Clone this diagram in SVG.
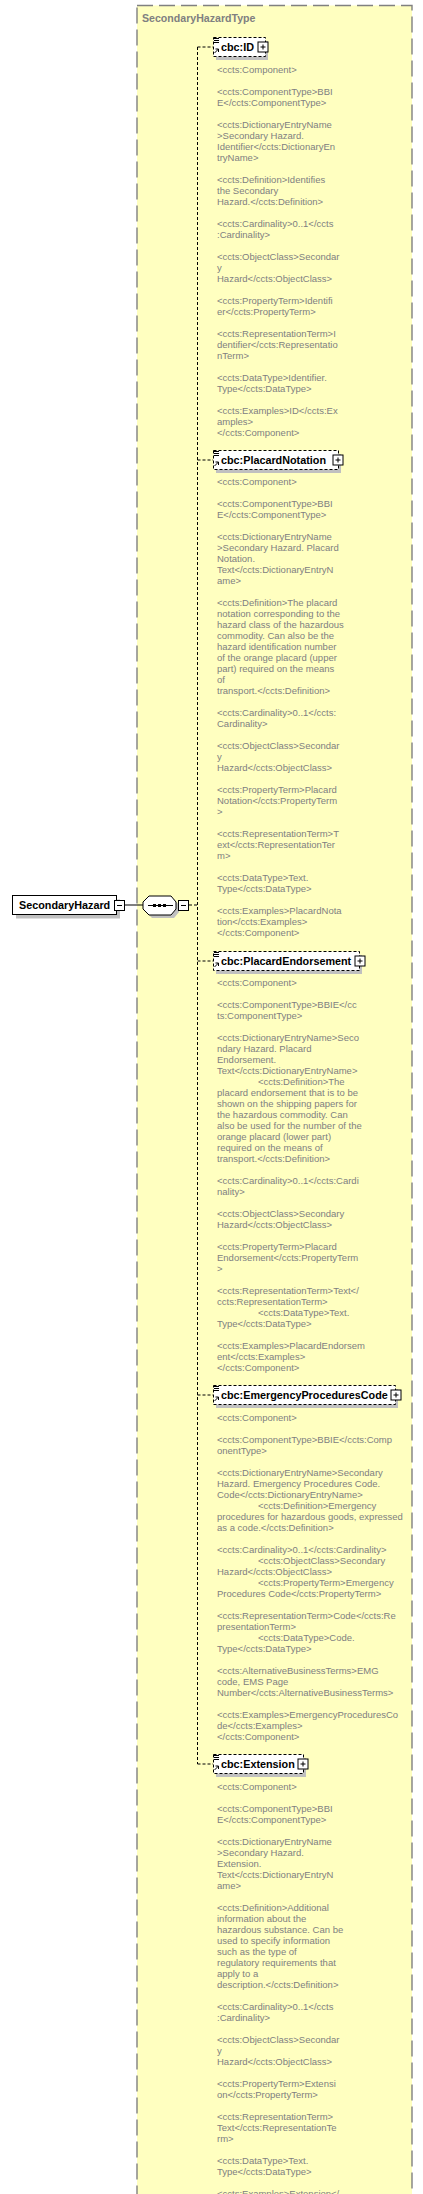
<svg xmlns="http://www.w3.org/2000/svg" width="423" height="2194" viewBox="0 0 423 2194">
<style>
.t{font-family:"Liberation Sans",Arial,sans-serif;font-size:9.5px;fill:#808080}
.n{font-family:"Liberation Sans",Arial,sans-serif;font-weight:bold;font-size:10.8px;fill:#000}
.ttl{font-family:"Liberation Sans",Arial,sans-serif;font-weight:bold;font-size:10.6px;fill:#808080}
.box{fill:#fff;stroke:#000;stroke-width:1;stroke-dasharray:3,2}
.sbox{fill:#fff;stroke:#000;stroke-width:1}
.sh{fill:#c0c0c0}
.dc{stroke:#000;stroke-width:1;stroke-dasharray:3,2;fill:none}
.sc{stroke:#000;stroke-width:1;fill:none}
.ic{stroke:#000;stroke-width:1;fill:none}
</style>
<defs>
<g id="pl"><rect x="0.5" y="0.5" width="10" height="10" class="sbox"/><path d="M3 5.5h5M5.5 3v5" class="ic"/></g>
<g id="icons"><path d="M1 1.5h5M1 3.5h5M1 5.5h5" class="ic"/><path d="M1.5 16l4-4M2.5 12h3v3" class="ic"/></g>
</defs>
<g id="container">
<rect x="137" y="5.5" width="275" height="2220" fill="#ffffc0" stroke="#808080" stroke-width="1.4" stroke-dasharray="16,6"/>
<text x="142" y="21.5" class="ttl">SecondaryHazardType</text>
</g>
<g id="connectors">
<path d="M124 905H143" class="sc"/>
<path d="M189 905H197.5M197.5 47V1764M197.5 47H213M197.5 460H213M197.5 961H213M197.5 1395H213M197.5 1764H213" class="dc"/>
</g>
<g id="SecondaryHazard">
<rect x="16" y="899.5" width="104" height="19" class="sh"/>
<rect x="12.5" y="895.5" width="104" height="19" class="sbox"/>
<text x="19" y="909" class="n">SecondaryHazard</text>
<rect x="114.5" y="900.5" width="10" height="10" class="sbox"/>
<path d="M117 905.5h5" class="ic"/>
</g>
<g id="sequence">
<polygon points="152,899 174,899 179,905 179,912 174,918 152,918 146,912 146,905" class="sh"/>
<polygon points="149,896 171,896 176,902 176,909 171,915 149,915 143,909 143,902" fill="#fff" stroke="#000" stroke-width="1"/>
<path d="M148 905.5H173" class="ic"/>
<rect x="153" y="904" width="3" height="3"/><rect x="158" y="904" width="3" height="3"/><rect x="163" y="904" width="3" height="3"/>
<rect x="178.5" y="900.5" width="10" height="10" class="sbox"/>
<path d="M181 905.5h5" class="ic"/>
</g>
<g id="cbcID">
<rect x="216" y="41" width="52" height="19" class="sh"/>
<rect x="213.5" y="37.5" width="52" height="19" class="box"/>
<use href="#icons" x="213" y="37"/>
<text x="221" y="51" class="n">cbc:ID</text>
<use href="#pl" x="257.5" y="41.5"/>
<text class="t"><tspan x="217" y="73">&lt;ccts:Component&gt;</tspan><tspan x="217" y="95">&lt;ccts:ComponentType&gt;BBI</tspan><tspan x="217" y="106">E&lt;/ccts:ComponentType&gt;</tspan><tspan x="217" y="128">&lt;ccts:DictionaryEntryName</tspan><tspan x="217" y="139">&gt;Secondary Hazard.</tspan><tspan x="217" y="150">Identifier&lt;/ccts:DictionaryEn</tspan><tspan x="217" y="161">tryName&gt;</tspan><tspan x="217" y="183">&lt;ccts:Definition&gt;Identifies</tspan><tspan x="217" y="194">the Secondary</tspan><tspan x="217" y="205">Hazard.&lt;/ccts:Definition&gt;</tspan><tspan x="217" y="227">&lt;ccts:Cardinality&gt;0..1&lt;/ccts</tspan><tspan x="217" y="238">:Cardinality&gt;</tspan><tspan x="217" y="260">&lt;ccts:ObjectClass&gt;Secondar</tspan><tspan x="217" y="271">y</tspan><tspan x="217" y="282">Hazard&lt;/ccts:ObjectClass&gt;</tspan><tspan x="217" y="304">&lt;ccts:PropertyTerm&gt;Identifi</tspan><tspan x="217" y="315">er&lt;/ccts:PropertyTerm&gt;</tspan><tspan x="217" y="337">&lt;ccts:RepresentationTerm&gt;I</tspan><tspan x="217" y="348">dentifier&lt;/ccts:Representatio</tspan><tspan x="217" y="359">nTerm&gt;</tspan><tspan x="217" y="381">&lt;ccts:DataType&gt;Identifier.</tspan><tspan x="217" y="392">Type&lt;/ccts:DataType&gt;</tspan><tspan x="217" y="414">&lt;ccts:Examples&gt;ID&lt;/ccts:Ex</tspan><tspan x="217" y="425">amples&gt;</tspan><tspan x="217" y="436">&lt;/ccts:Component&gt;</tspan></text>
</g>
<g id="cbcPlacardNotation">
<rect x="216" y="454" width="125" height="19" class="sh"/>
<rect x="213.5" y="450.5" width="125" height="19" class="box"/>
<use href="#icons" x="213" y="450"/>
<text x="221" y="464" class="n">cbc:PlacardNotation</text>
<use href="#pl" x="332.5" y="454.5"/>
<text class="t"><tspan x="217" y="485">&lt;ccts:Component&gt;</tspan><tspan x="217" y="507">&lt;ccts:ComponentType&gt;BBI</tspan><tspan x="217" y="518">E&lt;/ccts:ComponentType&gt;</tspan><tspan x="217" y="540">&lt;ccts:DictionaryEntryName</tspan><tspan x="217" y="551">&gt;Secondary Hazard. Placard</tspan><tspan x="217" y="562">Notation.</tspan><tspan x="217" y="573">Text&lt;/ccts:DictionaryEntryN</tspan><tspan x="217" y="584">ame&gt;</tspan><tspan x="217" y="606">&lt;ccts:Definition&gt;The placard</tspan><tspan x="217" y="617">notation corresponding to the</tspan><tspan x="217" y="628">hazard class of the hazardous</tspan><tspan x="217" y="639">commodity. Can also be the</tspan><tspan x="217" y="650">hazard identification number</tspan><tspan x="217" y="661">of the orange placard (upper</tspan><tspan x="217" y="672">part) required on the means</tspan><tspan x="217" y="683">of</tspan><tspan x="217" y="694">transport.&lt;/ccts:Definition&gt;</tspan><tspan x="217" y="716">&lt;ccts:Cardinality&gt;0..1&lt;/ccts:</tspan><tspan x="217" y="727">Cardinality&gt;</tspan><tspan x="217" y="749">&lt;ccts:ObjectClass&gt;Secondar</tspan><tspan x="217" y="760">y</tspan><tspan x="217" y="771">Hazard&lt;/ccts:ObjectClass&gt;</tspan><tspan x="217" y="793">&lt;ccts:PropertyTerm&gt;Placard</tspan><tspan x="217" y="804">Notation&lt;/ccts:PropertyTerm</tspan><tspan x="217" y="815">&gt;</tspan><tspan x="217" y="837">&lt;ccts:RepresentationTerm&gt;T</tspan><tspan x="217" y="848">ext&lt;/ccts:RepresentationTer</tspan><tspan x="217" y="859">m&gt;</tspan><tspan x="217" y="881">&lt;ccts:DataType&gt;Text.</tspan><tspan x="217" y="892">Type&lt;/ccts:DataType&gt;</tspan><tspan x="217" y="914">&lt;ccts:Examples&gt;PlacardNota</tspan><tspan x="217" y="925">tion&lt;/ccts:Examples&gt;</tspan><tspan x="217" y="936">&lt;/ccts:Component&gt;</tspan></text>
</g>
<g id="cbcPlacardEndorsement">
<rect x="216" y="955" width="146" height="19" class="sh"/>
<rect x="213.5" y="951.5" width="146" height="19" class="box"/>
<use href="#icons" x="213" y="951"/>
<text x="221" y="965" class="n">cbc:PlacardEndorsement</text>
<use href="#pl" x="354.5" y="955.5"/>
<text class="t"><tspan x="217" y="986">&lt;ccts:Component&gt;</tspan><tspan x="217" y="1008">&lt;ccts:ComponentType&gt;BBIE&lt;/cc</tspan><tspan x="217" y="1019">ts:ComponentType&gt;</tspan><tspan x="217" y="1041">&lt;ccts:DictionaryEntryName&gt;Seco</tspan><tspan x="217" y="1052">ndary Hazard. Placard</tspan><tspan x="217" y="1063">Endorsement.</tspan><tspan x="217" y="1074">Text&lt;/ccts:DictionaryEntryName&gt;</tspan><tspan x="258" y="1085">&lt;ccts:Definition&gt;The</tspan><tspan x="217" y="1096">placard endorsement that is to be</tspan><tspan x="217" y="1107">shown on the shipping papers for</tspan><tspan x="217" y="1118">the hazardous commodity. Can</tspan><tspan x="217" y="1129">also be used for the number of the</tspan><tspan x="217" y="1140">orange placard (lower part)</tspan><tspan x="217" y="1151">required on the means of</tspan><tspan x="217" y="1162">transport.&lt;/ccts:Definition&gt;</tspan><tspan x="217" y="1184">&lt;ccts:Cardinality&gt;0..1&lt;/ccts:Cardi</tspan><tspan x="217" y="1195">nality&gt;</tspan><tspan x="217" y="1217">&lt;ccts:ObjectClass&gt;Secondary</tspan><tspan x="217" y="1228">Hazard&lt;/ccts:ObjectClass&gt;</tspan><tspan x="217" y="1250">&lt;ccts:PropertyTerm&gt;Placard</tspan><tspan x="217" y="1261">Endorsement&lt;/ccts:PropertyTerm</tspan><tspan x="217" y="1272">&gt;</tspan><tspan x="217" y="1294">&lt;ccts:RepresentationTerm&gt;Text&lt;/</tspan><tspan x="217" y="1305">ccts:RepresentationTerm&gt;</tspan><tspan x="258" y="1316">&lt;ccts:DataType&gt;Text.</tspan><tspan x="217" y="1327">Type&lt;/ccts:DataType&gt;</tspan><tspan x="217" y="1349">&lt;ccts:Examples&gt;PlacardEndorsem</tspan><tspan x="217" y="1360">ent&lt;/ccts:Examples&gt;</tspan><tspan x="217" y="1371">&lt;/ccts:Component&gt;</tspan></text>
</g>
<g id="cbcEmergencyProceduresCode">
<rect x="216" y="1389" width="182" height="19" class="sh"/>
<rect x="213.5" y="1385.5" width="182" height="19" class="box"/>
<use href="#icons" x="213" y="1385"/>
<text x="221" y="1399" class="n">cbc:EmergencyProceduresCode</text>
<use href="#pl" x="390.5" y="1389.5"/>
<text class="t"><tspan x="217" y="1421">&lt;ccts:Component&gt;</tspan><tspan x="217" y="1443">&lt;ccts:ComponentType&gt;BBIE&lt;/ccts:Comp</tspan><tspan x="217" y="1454">onentType&gt;</tspan><tspan x="217" y="1476">&lt;ccts:DictionaryEntryName&gt;Secondary</tspan><tspan x="217" y="1487">Hazard. Emergency Procedures Code.</tspan><tspan x="217" y="1498">Code&lt;/ccts:DictionaryEntryName&gt;</tspan><tspan x="258" y="1509">&lt;ccts:Definition&gt;Emergency</tspan><tspan x="217" y="1520">procedures for hazardous goods, expressed</tspan><tspan x="217" y="1531">as a code.&lt;/ccts:Definition&gt;</tspan><tspan x="217" y="1553">&lt;ccts:Cardinality&gt;0..1&lt;/ccts:Cardinality&gt;</tspan><tspan x="258" y="1564">&lt;ccts:ObjectClass&gt;Secondary</tspan><tspan x="217" y="1575">Hazard&lt;/ccts:ObjectClass&gt;</tspan><tspan x="258" y="1586">&lt;ccts:PropertyTerm&gt;Emergency</tspan><tspan x="217" y="1597">Procedures Code&lt;/ccts:PropertyTerm&gt;</tspan><tspan x="217" y="1619">&lt;ccts:RepresentationTerm&gt;Code&lt;/ccts:Re</tspan><tspan x="217" y="1630">presentationTerm&gt;</tspan><tspan x="258" y="1641">&lt;ccts:DataType&gt;Code.</tspan><tspan x="217" y="1652">Type&lt;/ccts:DataType&gt;</tspan><tspan x="217" y="1674">&lt;ccts:AlternativeBusinessTerms&gt;EMG</tspan><tspan x="217" y="1685">code, EMS Page</tspan><tspan x="217" y="1696">Number&lt;/ccts:AlternativeBusinessTerms&gt;</tspan><tspan x="217" y="1718">&lt;ccts:Examples&gt;EmergencyProceduresCo</tspan><tspan x="217" y="1729">de&lt;/ccts:Examples&gt;</tspan><tspan x="217" y="1740">&lt;/ccts:Component&gt;</tspan></text>
</g>
<g id="cbcExtension">
<rect x="216" y="1758" width="90" height="19" class="sh"/>
<rect x="213.5" y="1754.5" width="90" height="19" class="box"/>
<use href="#icons" x="213" y="1754"/>
<text x="221" y="1768" class="n">cbc:Extension</text>
<use href="#pl" x="297.5" y="1758.5"/>
<text class="t"><tspan x="217" y="1790">&lt;ccts:Component&gt;</tspan><tspan x="217" y="1812">&lt;ccts:ComponentType&gt;BBI</tspan><tspan x="217" y="1823">E&lt;/ccts:ComponentType&gt;</tspan><tspan x="217" y="1845">&lt;ccts:DictionaryEntryName</tspan><tspan x="217" y="1856">&gt;Secondary Hazard.</tspan><tspan x="217" y="1867">Extension.</tspan><tspan x="217" y="1878">Text&lt;/ccts:DictionaryEntryN</tspan><tspan x="217" y="1889">ame&gt;</tspan><tspan x="217" y="1911">&lt;ccts:Definition&gt;Additional</tspan><tspan x="217" y="1922">information about the</tspan><tspan x="217" y="1933">hazardous substance. Can be</tspan><tspan x="217" y="1944">used to specify information</tspan><tspan x="217" y="1955">such as the type of</tspan><tspan x="217" y="1966">regulatory requirements that</tspan><tspan x="217" y="1977">apply to a</tspan><tspan x="217" y="1988">description.&lt;/ccts:Definition&gt;</tspan><tspan x="217" y="2010">&lt;ccts:Cardinality&gt;0..1&lt;/ccts</tspan><tspan x="217" y="2021">:Cardinality&gt;</tspan><tspan x="217" y="2043">&lt;ccts:ObjectClass&gt;Secondar</tspan><tspan x="217" y="2054">y</tspan><tspan x="217" y="2065">Hazard&lt;/ccts:ObjectClass&gt;</tspan><tspan x="217" y="2087">&lt;ccts:PropertyTerm&gt;Extensi</tspan><tspan x="217" y="2098">on&lt;/ccts:PropertyTerm&gt;</tspan><tspan x="217" y="2120">&lt;ccts:RepresentationTerm&gt;</tspan><tspan x="217" y="2131">Text&lt;/ccts:RepresentationTe</tspan><tspan x="217" y="2142">rm&gt;</tspan><tspan x="217" y="2164">&lt;ccts:DataType&gt;Text.</tspan><tspan x="217" y="2175">Type&lt;/ccts:DataType&gt;</tspan><tspan x="217" y="2197">&lt;ccts:Examples&gt;Extension&lt;/</tspan></text>
</g>
</svg>
